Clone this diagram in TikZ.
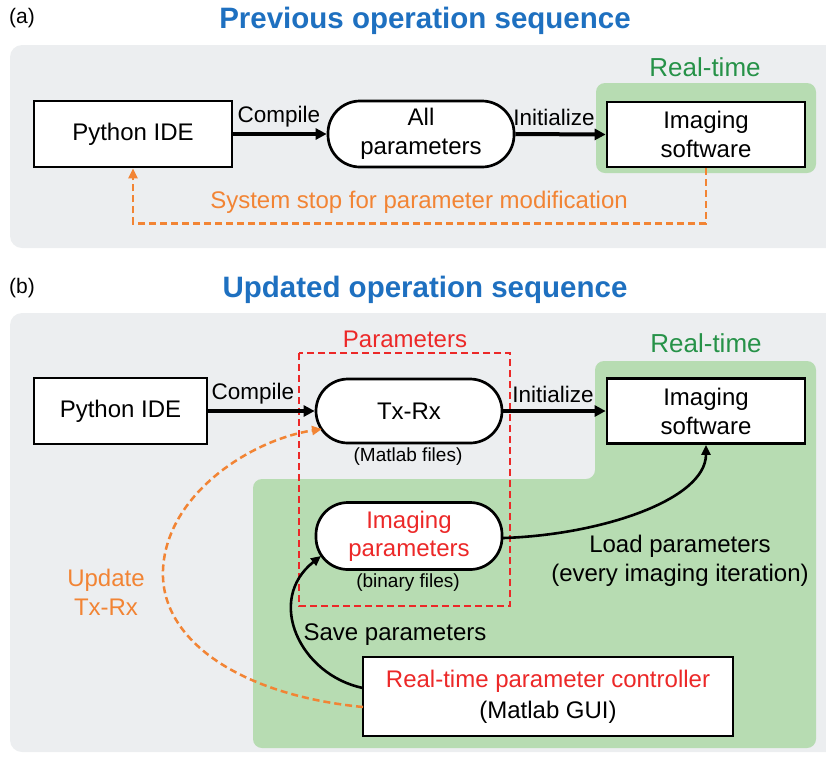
\documentclass[tikz,border=0pt]{standalone}
\usepackage{fontspec}
\setmainfont{Liberation Sans}
\usetikzlibrary{arrows.meta}
\definecolor{panelgray}{RGB}{236,238,240}
\definecolor{rtgreen}{RGB}{183,220,178}
\definecolor{titleblue}{RGB}{30,112,192}
\definecolor{labgreen}{RGB}{38,146,72}
\definecolor{pred}{RGB}{236,40,40}
\definecolor{porange}{RGB}{242,132,52}
\newcommand{\fsz}[2]{\fontsize{#1}{#2}\selectfont}
\begin{document}
\begin{tikzpicture}[x=1pt,y=-1pt,
  boxnode/.style={draw=black, line width=2.7pt, fill=white, align=center, inner sep=0pt, font=\fsz{24}{29}},
  stadium/.style={boxnode, rounded corners=32pt},
  mainarrow/.style={line width=4pt, -{Triangle[length=11pt,width=11pt]}},
  curvearrow/.style={line width=2.6pt, -{Triangle[length=10pt,width=9pt]}},
  orangedash/.style={draw=porange, line width=2.5pt, dash pattern=on 7pt off 4pt, -{Triangle[length=10pt,width=9pt]}},
  lbl/.style={inner sep=0pt, font=\fsz{24}{29}, align=center},
  smalllbl/.style={inner sep=0pt, font=\fsz{19}{22}},
  arrowlbl/.style={inner sep=0pt, font=\fsz{22.5}{26}},
  titlelbl/.style={inner sep=0pt, font=\bfseries\fsz{29.5}{34}, text=titleblue},
  panellbl/.style={inner sep=0pt, font=\fsz{21}{25}}
]
\useasboundingbox (0,0) rectangle (826,756);
\clip (0,0) rectangle (826,756);

% ---------- panel (a) ----------
\fill[panelgray, rounded corners=12pt] (10,45) rectangle (850,248);
\fill[rtgreen, rounded corners=9pt] (596,83) rectangle (816,173);
\node[panellbl] (la) at (22,18) {(a)};
\node[titlelbl] (ta) at (425,21) {Previous operation sequence};
\node[lbl, text=labgreen, font=\fsz{26}{30}] (rta) at (705,67) {Real-time};

\node[boxnode, minimum width=198pt, minimum height=66pt] (pya) at (133,134) {Python IDE};
\node[stadium, minimum width=186pt, minimum height=66pt] (alla) at (421,134) {All\\parameters};
\node[boxnode, minimum width=198pt, minimum height=65pt] (swa) at (706,134.5) {Imaging\\software};

\draw[mainarrow] (pya.east) -- (alla.west);
\draw[mainarrow] (alla.east) -- (swa.west);
\node[arrowlbl] (ca) at (279,117) {Compile};
\node[arrowlbl] (ia) at (554,117) {Initialize};

\draw[orangedash] (swa.south) -- ++(0,55) -| (pya.south);
\node[lbl, text=porange] (stop) at (419,202) {System stop for parameter modification};

% ---------- panel (b) ----------
\fill[panelgray, rounded corners=12pt] (10,313) rectangle (850,752);
\fill[rtgreen, rounded corners=9pt] (253,479) -- (595,479) -- (595,361) -- (816,361) -- (816,748) -- (253,748) -- cycle;
\node[panellbl] (lb) at (22,288) {(b)};
\node[titlelbl] (tb) at (425,290) {Updated operation sequence};
\node[lbl, text=labgreen, font=\fsz{26}{30}] (rtb) at (706,343) {Real-time};
\node[lbl, text=pred] (parlbl) at (405,339) {Parameters};

\node[boxnode, minimum width=173pt, minimum height=66pt] (pyb) at (120.5,411) {Python IDE};
\node[stadium, minimum width=186pt, minimum height=64pt] (txrx) at (409,411) {Tx-Rx};
\node[boxnode, minimum width=198pt, minimum height=65pt] (swb) at (706,411) {Imaging\\software};
\node[stadium, minimum width=186pt, minimum height=67pt, text=pred, font=\fsz{24}{28}] (imgp) at (409,536) {Imaging\\parameters};
\node[boxnode, minimum width=370pt, minimum height=79pt, font=\fsz{24}{31}] (ctrl) at (548,696.5) {\textcolor{pred}{Real-time parameter controller}\\(Matlab GUI)};

\node[smalllbl] (mf) at (408,457) {(Matlab files)};
\node[smalllbl] (bf) at (408,583) {(binary files)};

\draw[pred, line width=2.3pt, dash pattern=on 7pt off 4pt] (299,353) rectangle (510,606);

\draw[mainarrow] (pyb.east) -- (txrx.west);
\draw[mainarrow] (txrx.east) -- (swb.west);
\node[arrowlbl] (cb) at (253,394) {Compile};
\node[arrowlbl] (ib) at (553,394) {Initialize};

\coordinate (loadstart) at (503,538);
\draw[curvearrow] (loadstart) .. controls (600,535) and (706,500) .. (swb.south);
\node[lbl] (loadlbl) at (680,561) {Load parameters\\(every imaging iteration)};

\coordinate (savestart) at (363,688);
\coordinate (savetip) at (321,556);
\draw[curvearrow] (savestart) .. controls (300,675) and (265,600) .. (savetip);
\node[lbl] (savelbl) at (395,635) {Save parameters};

\coordinate (updstart) at (363,707);
\coordinate (updtip) at (322,429);
\draw[orangedash] (updstart) .. controls (240,695) and (160,640) .. (163,570) .. controls (166,495) and (250,440) .. (updtip);
\node[lbl, text=porange] (updlbl) at (106,592) {Update\\Tx-Rx};
\end{tikzpicture}
\end{document}
